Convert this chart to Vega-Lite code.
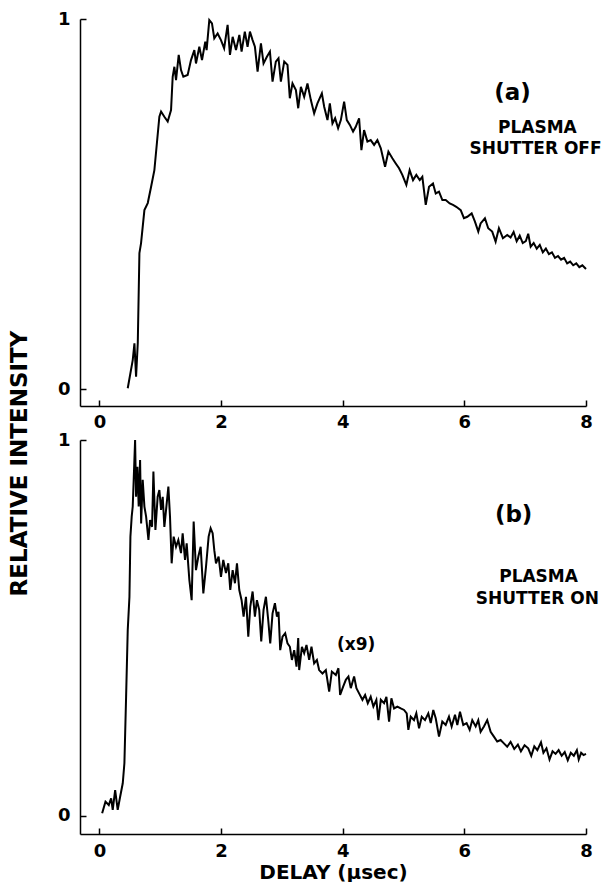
{
 "$schema": "https://vega.github.io/schema/vega-lite/v6.json",
 "padding": {"left": 8, "top": 10, "right": 0, "bottom": 0},
 "bounds": "flush",
 "spacing": 34,
 "background": "white",
 "config": {
  "view": {"stroke": null},
  "font": "DejaVu Sans",
  "axis": {"domainColor": "black", "domainWidth": 1.5, "tickColor": "black", "tickWidth": 1.5, "tickSize": -6, "labelColor": "black", "labelFont": "DejaVu Sans", "labelFontSize": 18, "labelFontWeight": "bold", "grid": false, "titleColor": "black", "titleFont": "DejaVu Sans", "titleFontWeight": "bold", "titleFontSize": 20, "labelFlush": false, "format": "d"}
 },
 "datasets": {
  "a": [
   {"t":0.465,"v":0.003},{"t":0.547,"v":0.079},{"t":0.575,"v":0.124},{"t":0.602,"v":0.034},{"t":0.63,"v":0.125},{"t":0.657,"v":0.368},{"t":0.684,"v":0.395},{"t":0.739,"v":0.484},{"t":0.794,"v":0.503},{"t":0.849,"v":0.547},{"t":0.903,"v":0.592},{"t":0.985,"v":0.736},{"t":1.013,"v":0.75},{"t":1.067,"v":0.736},{"t":1.122,"v":0.723},{"t":1.177,"v":0.754},{"t":1.204,"v":0.844},{"t":1.232,"v":0.871},{"t":1.259,"v":0.835},{"t":1.303,"v":0.903},{"t":1.341,"v":0.862},{"t":1.379,"v":0.844},{"t":1.45,"v":0.849},{"t":1.505,"v":0.889},{"t":1.56,"v":0.916},{"t":1.587,"v":0.88},{"t":1.642,"v":0.925},{"t":1.686,"v":0.889},{"t":1.74,"v":0.939},{"t":1.762,"v":0.916},{"t":1.806,"v":0.997},{"t":1.85,"v":0.988},{"t":1.888,"v":0.948},{"t":1.943,"v":0.961},{"t":1.998,"v":0.943},{"t":2.05,"v":0.921},{"t":2.107,"v":0.984},{"t":2.146,"v":0.903},{"t":2.19,"v":0.952},{"t":2.245,"v":0.916},{"t":2.3,"v":0.957},{"t":2.337,"v":0.912},{"t":2.39,"v":0.966},{"t":2.435,"v":0.925},{"t":2.474,"v":0.966},{"t":2.518,"v":0.943},{"t":2.556,"v":0.925},{"t":2.6,"v":0.858},{"t":2.655,"v":0.934},{"t":2.698,"v":0.88},{"t":2.753,"v":0.898},{"t":2.803,"v":0.912},{"t":2.846,"v":0.831},{"t":2.9,"v":0.885},{"t":2.944,"v":0.894},{"t":2.983,"v":0.831},{"t":3.038,"v":0.885},{"t":3.092,"v":0.876},{"t":3.13,"v":0.786},{"t":3.174,"v":0.826},{"t":3.23,"v":0.808},{"t":3.268,"v":0.759},{"t":3.312,"v":0.817},{"t":3.366,"v":0.79},{"t":3.42,"v":0.826},{"t":3.476,"v":0.781},{"t":3.53,"v":0.745},{"t":3.584,"v":0.772},{"t":3.657,"v":0.799},{"t":3.695,"v":0.763},{"t":3.749,"v":0.727},{"t":3.788,"v":0.772},{"t":3.831,"v":0.718},{"t":3.875,"v":0.732},{"t":3.924,"v":0.705},{"t":3.969,"v":0.727},{"t":4.023,"v":0.777},{"t":4.067,"v":0.727},{"t":4.117,"v":0.714},{"t":4.17,"v":0.696},{"t":4.214,"v":0.709},{"t":4.269,"v":0.732},{"t":4.307,"v":0.646},{"t":4.351,"v":0.7},{"t":4.406,"v":0.669},{"t":4.46,"v":0.673},{"t":4.516,"v":0.66},{"t":4.57,"v":0.673},{"t":4.626,"v":0.651},{"t":4.696,"v":0.601},{"t":4.751,"v":0.642},{"t":4.816,"v":0.624},{"t":4.872,"v":0.61},{"t":4.926,"v":0.597},{"t":4.98,"v":0.579},{"t":5.046,"v":0.552},{"t":5.1,"v":0.592},{"t":5.156,"v":0.565},{"t":5.21,"v":0.579},{"t":5.266,"v":0.565},{"t":5.309,"v":0.574},{"t":5.365,"v":0.498},{"t":5.419,"v":0.547},{"t":5.484,"v":0.556},{"t":5.529,"v":0.529},{"t":5.583,"v":0.534},{"t":5.638,"v":0.511},{"t":5.693,"v":0.511},{"t":5.759,"v":0.502},{"t":5.813,"v":0.498},{"t":5.867,"v":0.493},{"t":5.94,"v":0.484},{"t":5.993,"v":0.462},{"t":6.048,"v":0.466},{"t":6.12,"v":0.475},{"t":6.174,"v":0.453},{"t":6.229,"v":0.426},{"t":6.267,"v":0.448},{"t":6.338,"v":0.462},{"t":6.392,"v":0.435},{"t":6.458,"v":0.426},{"t":6.514,"v":0.399},{"t":6.568,"v":0.435},{"t":6.634,"v":0.408},{"t":6.705,"v":0.417},{"t":6.76,"v":0.41},{"t":6.81,"v":0.425},{"t":6.86,"v":0.4},{"t":6.91,"v":0.415},{"t":6.96,"v":0.395},{"t":7.01,"v":0.4},{"t":7.05,"v":0.42},{"t":7.09,"v":0.385},{"t":7.14,"v":0.395},{"t":7.19,"v":0.38},{"t":7.24,"v":0.39},{"t":7.29,"v":0.37},{"t":7.34,"v":0.38},{"t":7.39,"v":0.365},{"t":7.44,"v":0.37},{"t":7.49,"v":0.355},{"t":7.54,"v":0.36},{"t":7.59,"v":0.35},{"t":7.64,"v":0.355},{"t":7.69,"v":0.34},{"t":7.74,"v":0.345},{"t":7.79,"v":0.335},{"t":7.84,"v":0.34},{"t":7.89,"v":0.33},{"t":7.94,"v":0.335},{"t":8.0,"v":0.325}
  ],
  "b": [
   {"t":0.044,"v":0.007},{"t":0.099,"v":0.038},{"t":0.153,"v":0.029},{"t":0.192,"v":0.047},{"t":0.218,"v":0.016},{"t":0.258,"v":0.069},{"t":0.3,"v":0.016},{"t":0.34,"v":0.051},{"t":0.383,"v":0.087},{"t":0.41,"v":0.14},{"t":0.438,"v":0.317},{"t":0.465,"v":0.495},{"t":0.493,"v":0.583},{"t":0.509,"v":0.743},{"t":0.53,"v":0.796},{"t":0.547,"v":0.823},{"t":0.563,"v":0.894},{"t":0.586,"v":1.0},{"t":0.602,"v":0.849},{"t":0.624,"v":0.929},{"t":0.645,"v":0.823},{"t":0.668,"v":0.947},{"t":0.685,"v":0.778},{"t":0.711,"v":0.894},{"t":0.739,"v":0.823},{"t":0.767,"v":0.796},{"t":0.805,"v":0.734},{"t":0.832,"v":0.787},{"t":0.865,"v":0.769},{"t":0.887,"v":0.916},{"t":0.92,"v":0.761},{"t":0.957,"v":0.849},{"t":0.985,"v":0.867},{"t":1.013,"v":0.814},{"t":1.04,"v":0.849},{"t":1.067,"v":0.769},{"t":1.095,"v":0.814},{"t":1.133,"v":0.876},{"t":1.16,"v":0.796},{"t":1.187,"v":0.672},{"t":1.22,"v":0.743},{"t":1.259,"v":0.716},{"t":1.297,"v":0.734},{"t":1.341,"v":0.699},{"t":1.368,"v":0.752},{"t":1.407,"v":0.681},{"t":1.434,"v":0.725},{"t":1.478,"v":0.628},{"t":1.516,"v":0.574},{"t":1.549,"v":0.783},{"t":1.587,"v":0.654},{"t":1.626,"v":0.69},{"t":1.664,"v":0.716},{"t":1.708,"v":0.592},{"t":1.752,"v":0.663},{"t":1.795,"v":0.743},{"t":1.828,"v":0.765},{"t":1.861,"v":0.752},{"t":1.888,"v":0.707},{"t":1.916,"v":0.672},{"t":1.959,"v":0.69},{"t":1.998,"v":0.636},{"t":2.036,"v":0.681},{"t":2.08,"v":0.646},{"t":2.118,"v":0.672},{"t":2.151,"v":0.601},{"t":2.19,"v":0.654},{"t":2.228,"v":0.619},{"t":2.261,"v":0.672},{"t":2.299,"v":0.601},{"t":2.337,"v":0.574},{"t":2.37,"v":0.53},{"t":2.409,"v":0.583},{"t":2.447,"v":0.477},{"t":2.48,"v":0.557},{"t":2.518,"v":0.597},{"t":2.556,"v":0.53},{"t":2.589,"v":0.574},{"t":2.627,"v":0.548},{"t":2.66,"v":0.464},{"t":2.698,"v":0.548},{"t":2.737,"v":0.583},{"t":2.775,"v":0.521},{"t":2.808,"v":0.459},{"t":2.846,"v":0.539},{"t":2.885,"v":0.566},{"t":2.918,"v":0.53},{"t":2.944,"v":0.543},{"t":2.972,"v":0.441},{"t":3.01,"v":0.477},{"t":3.054,"v":0.486},{"t":3.092,"v":0.459},{"t":3.131,"v":0.45},{"t":3.164,"v":0.415},{"t":3.202,"v":0.441},{"t":3.24,"v":0.397},{"t":3.268,"v":0.473},{"t":3.284,"v":0.388},{"t":3.329,"v":0.45},{"t":3.366,"v":0.433},{"t":3.404,"v":0.455},{"t":3.448,"v":0.415},{"t":3.486,"v":0.45},{"t":3.53,"v":0.406},{"t":3.575,"v":0.415},{"t":3.612,"v":0.388},{"t":3.667,"v":0.379},{"t":3.722,"v":0.388},{"t":3.777,"v":0.331},{"t":3.821,"v":0.384},{"t":3.887,"v":0.375},{"t":3.929,"v":0.393},{"t":3.957,"v":0.322},{"t":4.007,"v":0.344},{"t":4.051,"v":0.362},{"t":4.094,"v":0.371},{"t":4.133,"v":0.34},{"t":4.187,"v":0.371},{"t":4.225,"v":0.34},{"t":4.269,"v":0.326},{"t":4.324,"v":0.309},{"t":4.368,"v":0.322},{"t":4.412,"v":0.3},{"t":4.46,"v":0.317},{"t":4.504,"v":0.291},{"t":4.553,"v":0.309},{"t":4.586,"v":0.255},{"t":4.626,"v":0.309},{"t":4.68,"v":0.3},{"t":4.718,"v":0.317},{"t":4.762,"v":0.251},{"t":4.8,"v":0.313},{"t":4.844,"v":0.286},{"t":4.898,"v":0.291},{"t":4.954,"v":0.286},{"t":5.008,"v":0.282},{"t":5.052,"v":0.273},{"t":5.079,"v":0.229},{"t":5.118,"v":0.264},{"t":5.172,"v":0.255},{"t":5.21,"v":0.273},{"t":5.255,"v":0.233},{"t":5.299,"v":0.264},{"t":5.353,"v":0.255},{"t":5.407,"v":0.273},{"t":5.447,"v":0.247},{"t":5.489,"v":0.282},{"t":5.529,"v":0.26},{"t":5.583,"v":0.211},{"t":5.637,"v":0.251},{"t":5.693,"v":0.242},{"t":5.747,"v":0.264},{"t":5.791,"v":0.238},{"t":5.846,"v":0.269},{"t":5.884,"v":0.242},{"t":5.928,"v":0.277},{"t":5.982,"v":0.242},{"t":6.037,"v":0.247},{"t":6.087,"v":0.229},{"t":6.13,"v":0.255},{"t":6.186,"v":0.238},{"t":6.229,"v":0.255},{"t":6.267,"v":0.224},{"t":6.322,"v":0.238},{"t":6.376,"v":0.255},{"t":6.432,"v":0.224},{"t":6.486,"v":0.211},{"t":6.54,"v":0.198},{"t":6.596,"v":0.202},{"t":6.65,"v":0.193},{"t":6.704,"v":0.184},{"t":6.76,"v":0.197},{"t":6.82,"v":0.178},{"t":6.88,"v":0.19},{"t":6.93,"v":0.172},{"t":6.99,"v":0.188},{"t":7.05,"v":0.18},{"t":7.1,"v":0.16},{"t":7.15,"v":0.185},{"t":7.2,"v":0.175},{"t":7.26,"v":0.196},{"t":7.3,"v":0.168},{"t":7.35,"v":0.18},{"t":7.4,"v":0.15},{"t":7.45,"v":0.172},{"t":7.5,"v":0.165},{"t":7.55,"v":0.175},{"t":7.6,"v":0.16},{"t":7.65,"v":0.17},{"t":7.7,"v":0.148},{"t":7.75,"v":0.168},{"t":7.8,"v":0.16},{"t":7.85,"v":0.175},{"t":7.88,"v":0.15},{"t":7.92,"v":0.168},{"t":7.96,"v":0.162},{"t":8.0,"v":0.165}
  ],
  "panelTagA": [{"t":6.79,"v":0.8,"txt":"(a)"}],
  "noteA": [{"t":7.2,"v":0.705,"txt":"PLASMA"},{"t":7.17,"v":0.648,"txt":"SHUTTER OFF"}],
  "panelTagB": [{"t":6.81,"v":0.8,"txt":"(b)"}],
  "noteB": [{"t":7.22,"v":0.635,"txt":"PLASMA"},{"t":7.2,"v":0.578,"txt":"SHUTTER ON"},{"t":4.22,"v":0.455,"txt":"(x9)"}]
 },
 "vconcat": [
  {
   "width": 506,
   "height": 387,
   "layer": [
    {
     "data": {"name": "a"},
     "mark": {"type": "line", "color": "black", "strokeWidth": 2},
     "encoding": {
      "x": {"field": "t", "type": "quantitative", "scale": {"domain": [-0.32, 8], "nice": false, "zero": false}, "axis": {"values": [0, 2, 4, 6, 8], "title": null, "labelPadding": 13}},
      "y": {"field": "v", "type": "quantitative", "scale": {"domain": [-0.045, 1], "nice": false, "zero": false}, "axis": {"values": [0, 1], "title": "RELATIVE INTENSITY", "titleX": -61, "titleY": 444, "titleAngle": -90, "titleBaseline": "middle", "titleAlign": "center", "titleFontSize": 23, "labelPadding": 16}}
     }
    },
    {
     "data": {"name": "panelTagA"},
     "mark": {"type": "text", "fontSize": 23, "fontWeight": "bold", "color": "black"},
     "encoding": {"x": {"field": "t", "type": "quantitative"}, "y": {"field": "v", "type": "quantitative"}, "text": {"field": "txt"}}
    },
    {
     "data": {"name": "noteA"},
     "mark": {"type": "text", "fontSize": 17, "fontWeight": "bold", "color": "black"},
     "encoding": {"x": {"field": "t", "type": "quantitative"}, "y": {"field": "v", "type": "quantitative"}, "text": {"field": "txt"}}
    }
   ]
  },
  {
   "width": 506,
   "height": 394,
   "layer": [
    {
     "data": {"name": "b"},
     "mark": {"type": "line", "color": "black", "strokeWidth": 2},
     "encoding": {
      "x": {"field": "t", "type": "quantitative", "scale": {"domain": [-0.32, 8], "nice": false, "zero": false}, "axis": {"values": [0, 2, 4, 6, 8], "title": "DELAY (μsec)", "labelPadding": 14, "titlePadding": 2}},
      "y": {"field": "v", "type": "quantitative", "scale": {"domain": [-0.048, 1], "nice": false, "zero": false}, "axis": {"values": [0, 1], "title": null, "labelPadding": 16}}
     }
    },
    {
     "data": {"name": "panelTagB"},
     "mark": {"type": "text", "fontSize": 23, "fontWeight": "bold", "color": "black"},
     "encoding": {"x": {"field": "t", "type": "quantitative"}, "y": {"field": "v", "type": "quantitative"}, "text": {"field": "txt"}}
    },
    {
     "data": {"name": "noteB"},
     "mark": {"type": "text", "fontSize": 17, "fontWeight": "bold", "color": "black"},
     "encoding": {"x": {"field": "t", "type": "quantitative"}, "y": {"field": "v", "type": "quantitative"}, "text": {"field": "txt"}}
    }
   ]
  }
 ]
}
